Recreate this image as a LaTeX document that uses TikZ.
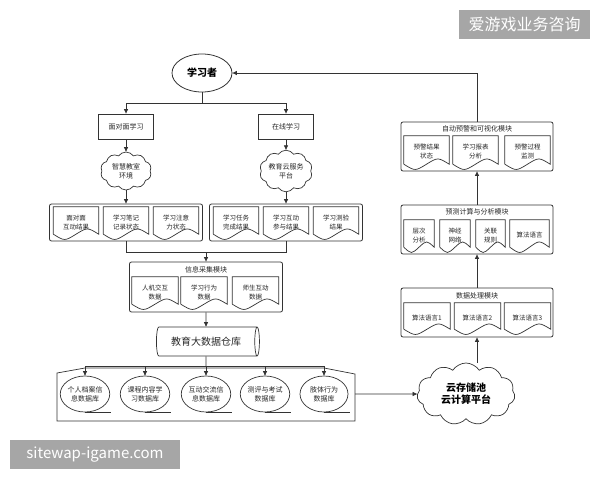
\documentclass[tikz,border=0pt]{standalone}
\usepackage{fontspec}
\setmainfont{Noto Sans CJK SC}
\usepackage{tikz}
\usetikzlibrary{arrows.meta,positioning,calc,shapes.geometric,shapes.symbols}
\tikzset{
  line/.style={draw=black!80, line width=0.7pt},
  flow/.style={-{Triangle[length=4.5pt,width=4pt]}, draw=black!80, line width=0.7pt},
  box/.style={rectangle, draw=black!80, fill=white, line width=0.8pt, minimum width=55pt,
              minimum height=25pt, inner sep=1pt, text=black!85, font=\fontsize{7}{8}\selectfont},
  group/.style={rectangle, rounded corners=2pt, draw=black!80, fill=white, line width=0.8pt, inner sep=0pt},
  gtitle/.style={inner sep=0pt, text=black!85, font=\fontsize{7}{8}\selectfont},
  doc/.style={rectangle, inner sep=0pt, align=center, text=black!85, font=\fontsize{6.5}{9}\selectfont},
  docline/.style={draw=black!80, line width=0.7pt},
  db/.style={ellipse, draw=black!80, line width=0.7pt, minimum width=48pt, minimum height=36pt,
             inner sep=0pt, align=center, text=black!85, font=\fontsize{7}{9}\selectfont},
  smallcloud/.style={cloud, cloud puffs=10, cloud puff arc=110, aspect=1.4, draw=black!80, fill=white,
             line width=0.7pt, minimum width=51pt, minimum height=38pt, inner sep=0pt, align=center,
             text=black!85, font=\fontsize{7}{9}\selectfont},
  learner/.style={ellipse, draw=black!80, line width=0.8pt, minimum width=60pt, minimum height=38pt,
             inner sep=0pt, font=\bfseries\fontsize{10}{12}\selectfont},
  wmark/.style={rectangle, fill=gray!70, text=white, inner sep=0pt},
}
\newcommand\docoutline[1]{%
  \path[docline] (#1.south west)++(0pt,4pt) -- (#1.north west) -- (#1.north east) -- ($(#1.south east)+(0pt,4pt)$)
    .. controls ($(#1.south)!.5!(#1.south east)+(0pt,11pt)$) .. ($(#1.south)+(0pt,4pt)$)
    .. controls ($(#1.south west)!.5!(#1.south)+(0pt,-3pt)$) .. ($(#1.south west)+(0pt,4pt)$);}

\begin{document}
\begin{tikzpicture}[x=1pt, y=-1pt]
  \useasboundingbox (0,0) rectangle (600,480);
  % watermarks
  \node[wmark, minimum width=131pt, minimum height=29pt, font=\fontsize{16}{16}\selectfont] (wm1) at (524.5,24.5) {爱游戏业务咨询};
  \node[wmark, minimum width=170pt, minimum height=29pt, font=\fontsize{15}{15}\selectfont] (wm2) at (95,454.5) {sitewap-igame.com};

  % learner and two ways of learning
  \node[learner] (lrn) at (202,73) {学习者};
  \node[box] (ftf) at (126,126.5) {面对面学习};
  \node[box] (onl) at (286,126.5) {在线学习};
  \coordinate (split) at (202,103);
  \draw[line] (lrn.south) -- (split);
  \draw[flow] (split) -| (ftf.north);
  \draw[flow] (split) -| (onl.north);
  \node[smallcloud] (cls) at (126,171) {智慧教室\\环境};
  \node[smallcloud] (cld) at (286,171) {教育云服务\\平台};
  \draw[flow] (ftf) -- (cls);
  \draw[flow] (onl) -- (cld);

  % collected results
  \node[group, minimum width=153pt, minimum height=37pt] (g1) at (126,222.5) {};
  \node[group, minimum width=153pt, minimum height=37pt] (g2) at (286,222.5) {};
  \draw[flow] (cls) -- (g1);
  \draw[flow] (cld) -- (g2);
  \foreach \n/\x/\t in {a1/76/面对面\\互动结果, a2/126/学习笔记\\记录状态, a3/176/学习注意\\力状态,
                        a4/236/学习任务\\完成结果, a5/286/学习互动\\参与结果, a6/336/学习测验\\结果} {
    \node[doc, minimum width=45pt, minimum height=31pt] (\n) at (\x,222.5) {\t};
    \docoutline{\n}
  }
  \coordinate (merge) at (206,252);
  \draw[line] (g1.south) |- (merge);
  \draw[line] (g2.south) |- (merge);

  % information collection
  \node[group, minimum width=153pt, minimum height=50pt] (info) at (206,287) {};
  \node[gtitle] (infot) at (206,270) {信息采集模块};
  \draw[flow] (merge) -- (info.north);
  \foreach \n/\x/\t in {b1/155/人机交互\\数据, b2/204/学习行为\\数据, b3/255.5/师生互动\\数据} {
    \node[doc, minimum width=46pt, minimum height=31pt] (\n) at (\x,292.5) {\t};
    \docoutline{\n}
  }

  % data warehouse
  \node[cylinder, draw=black!80, line width=0.7pt, shape aspect=0.35, minimum height=103pt, minimum width=29pt,
        inner sep=2pt, text=black!85, font=\fontsize{10}{12}\selectfont] (wh) at (206,341.5) {教育大数据仓库};
  \draw[flow] (info) -- (wh);
  \coordinate (dist) at (206,366);
  \draw[line] (wh.south) -- (dist);
  \draw[line] (57,373) -- (85,368) -- (324,368) -- (355,374) -- (355,421) -- (57,421) -- cycle;
  \foreach \n/\x/\t in {db1/85/个人档案信\\息数据库, db2/145/课程内容学\\习数据库, db3/206/互动交流信\\息数据库,
                        db4/265/测评与考试\\数据库, db5/324/肢体行为\\数据库} {
    \node[db] (\n) at (\x,394) {\t};
    \draw[line] (\n.south) -- ++(26pt,0pt);
    \draw[flow] (\n.north |- dist) -- (\n.north);
  }
  \draw[line] (db1.north |- dist) -- (db5.north |- dist);
  \coordinate (dbout) at (355,394);

  % cloud platform
  \node[cloud, cloud puffs=11, cloud puff arc=115, aspect=1.6, draw=black!80, line width=0.7pt,
        minimum width=98pt, minimum height=62pt, inner sep=0pt, align=center,
        font=\bfseries\fontsize{10}{12}\selectfont] (pool) at (466,394) {云存储池\\云计算平台};
  \draw[flow] (dbout) -- (pool.west);

  % processing modules
  \node[group, minimum width=152pt, minimum height=49pt] (proc) at (477,312.5) {};
  \node[gtitle] (proct) at (477,296) {数据处理模块};
  \foreach \n/\x/\t in {c1/427/算法语言1, c2/477.5/算法语言2, c3/527.5/算法语言3} {
    \node[doc, minimum width=46pt, minimum height=30pt] (\n) at (\x,318) {\t};
    \docoutline{\n}
  }
  \node[group, minimum width=152pt, minimum height=49pt] (pred) at (477,229.5) {};
  \node[gtitle] (predt) at (477,212) {预测计算与分析模块};
  \foreach \n/\x/\w/\t in {p1/419/30/层次\\分析, p2/455/30/神经\\网络, p3/490.5/29/关联\\规则, p4/529.5/39/算法语言} {
    \node[doc, minimum width=\w pt, minimum height=31pt] (\n) at (\x,235.5) {\t};
    \docoutline{\n}
  }
  \node[group, minimum width=152pt, minimum height=49pt] (warn) at (477,146.5) {};
  \node[gtitle] (warnt) at (477,129) {自动预警和可视化模块};
  \foreach \n/\x/\t in {w1/426.5/预警结果\\状态, w2/475.5/学习报表\\分析, w3/527.5/预警过程\\监测} {
    \node[doc, minimum width=45pt, minimum height=32pt] (\n) at (\x,152) {\t};
    \docoutline{\n}
  }
  \draw[flow] (proc.south |- pool.north) -- (proc.south);
  \draw[flow] (proc) -- (pred);
  \draw[flow] (pred) -- (warn);
  \draw[flow] (warn.north) |- (lrn.east);
\end{tikzpicture}
\end{document}
